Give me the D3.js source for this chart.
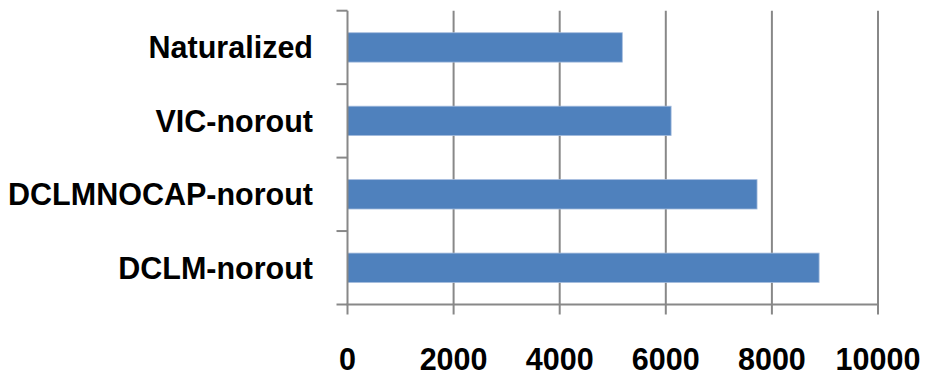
<!DOCTYPE html>
<html>
<head>
<meta charset="utf-8">
<script src="https://cdn.jsdelivr.net/npm/d3@7"></script>
<style>
  html, body { margin: 0; padding: 0; background: #ffffff; }
  svg { display: block; }
  text { font-family: "Liberation Sans", Arial, sans-serif; font-weight: bold; fill: #000; }
</style>
</head>
<body>
<script>
// Runs shown top to bottom
const categories = ["Naturalized", "VIC-norout", "DCLMNOCAP-norout", "DCLM-norout"];
const values = [5180, 6100, 7720, 8890];
const xTicks = [0, 2000, 4000, 6000, 8000, 10000];

const W = 927, H = 376;
const plot = { left: 347.5, right: 878, top: 10.7, bottom: 304.5 };
const gridColor = "#888888";
const barColor = "#4f81bd";

const svg = d3.select("body").append("svg")
  .attr("width", W).attr("height", H);

const x = d3.scaleLinear().domain([0, 10000]).range([plot.left, plot.right]);
const y = d3.scaleBand().domain(categories)
  .range([plot.top, plot.bottom])
  .paddingInner(0.6).paddingOuter(0.3);
const step = y.step();

// vertical gridlines
svg.append("g").selectAll("line")
  .data(xTicks.filter(t => t > 0))
  .join("line")
  .attr("x1", d => x(d)).attr("x2", d => x(d))
  .attr("y1", plot.top).attr("y2", plot.bottom)
  .attr("stroke", gridColor).attr("stroke-width", 2);

// bars
svg.append("g").selectAll("rect")
  .data(categories.map((c, i) => ({ c, v: values[i] })))
  .join("rect")
  .attr("x", x(0))
  .attr("y", d => y(d.c))
  .attr("width", d => x(d.v) - x(0))
  .attr("height", y.bandwidth())
  .attr("fill", barColor)
  .attr("stroke", "#a3bbdd").attr("stroke-width", 0.8);

// y axis line and category boundary ticks
svg.append("line")
  .attr("x1", plot.left).attr("x2", plot.left)
  .attr("y1", plot.top).attr("y2", plot.bottom)
  .attr("stroke", gridColor).attr("stroke-width", 2);
svg.append("g").selectAll("line")
  .data(d3.range(categories.length + 1))
  .join("line")
  .attr("x1", plot.left - 11).attr("x2", plot.left)
  .attr("y1", i => plot.top + i * step).attr("y2", i => plot.top + i * step)
  .attr("stroke", gridColor).attr("stroke-width", 2);

// category labels
svg.append("g").selectAll("text")
  .data(categories)
  .join("text")
  .attr("x", 313)
  .attr("y", d => y(d) + y.bandwidth() / 2)
  .attr("dy", "0.36em")
  .attr("text-anchor", "end")
  .style("font-size", "30.5px")
  .text(d => d);

// x axis line, ticks and labels
svg.append("line")
  .attr("x1", plot.left - 1).attr("x2", plot.right + 1)
  .attr("y1", plot.bottom).attr("y2", plot.bottom)
  .attr("stroke", gridColor).attr("stroke-width", 2);
svg.append("g").selectAll("line")
  .data(xTicks)
  .join("line")
  .attr("x1", d => x(d)).attr("x2", d => x(d))
  .attr("y1", plot.bottom).attr("y2", plot.bottom + 10)
  .attr("stroke", gridColor).attr("stroke-width", 2);
svg.append("g").selectAll("text")
  .data(xTicks)
  .join("text")
  .attr("x", d => x(d))
  .attr("y", 370)
  .attr("text-anchor", "middle")
  .style("font-size", "30.5px")
  .text(d => String(d));
</script>
</body>
</html>
